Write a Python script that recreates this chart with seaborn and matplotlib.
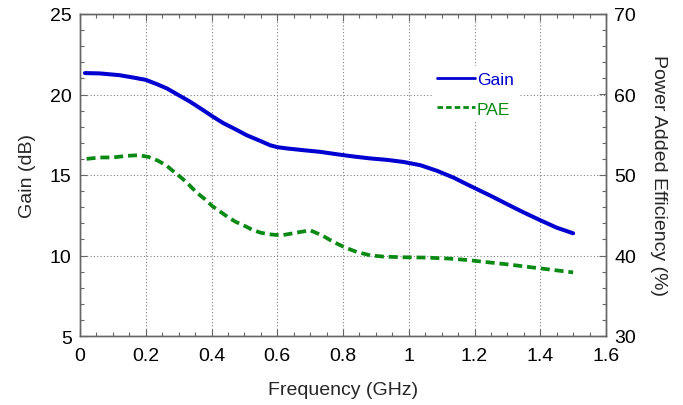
import matplotlib
matplotlib.use("Agg")
import matplotlib.pyplot as plt
from matplotlib.ticker import MultipleLocator
import seaborn as sns
import pandas as pd

# Data
gain_freq = [0.015, 0.06, 0.12, 0.16, 0.20, 0.233, 0.264, 0.30, 0.335, 0.37, 0.403,
             0.436, 0.472, 0.507, 0.548, 0.578, 0.60, 0.629, 0.68, 0.73, 0.781, 0.832,
             0.883, 0.934, 0.984, 1.035, 1.086, 1.136, 1.182, 1.25, 1.30, 1.35, 1.40,
             1.45, 1.50]
gain_db = [21.33, 21.31, 21.20, 21.06, 20.91, 20.65, 20.38, 19.96, 19.55, 19.09, 18.64,
           18.22, 17.85, 17.47, 17.12, 16.85, 16.73, 16.65, 16.54, 16.44, 16.29, 16.15,
           16.03, 15.94, 15.81, 15.61, 15.26, 14.84, 14.37, 13.70, 13.18, 12.67, 12.19,
           11.73, 11.38]

pae_freq = [0.02, 0.06, 0.10, 0.142, 0.178, 0.208, 0.238, 0.264, 0.286, 0.31, 0.332,
            0.355, 0.38, 0.403, 0.426, 0.452, 0.474, 0.497, 0.523, 0.548, 0.573, 0.60,
            0.619, 0.66, 0.70, 0.736, 0.771, 0.807, 0.842, 0.883, 0.923, 0.984, 1.055,
            1.126, 1.177, 1.30, 1.40, 1.50]
pae_pct = [52.00, 52.18, 52.18, 52.38, 52.46, 52.25, 51.76, 51.14, 50.39, 49.60, 48.77,
           47.82, 46.99, 46.12, 45.46, 44.71, 44.17, 43.76, 43.22, 42.85, 42.64, 42.55,
           42.55, 42.85, 43.13, 42.51, 41.68, 40.98, 40.44, 40.02, 39.86, 39.78, 39.74,
           39.61, 39.44, 38.90, 38.40, 37.90]

x_ticks = [0, 0.2, 0.4, 0.6, 0.8, 1, 1.2, 1.4, 1.6]
x_tick_labels = ["0", "0.2", "0.4", "0.6", "0.8", "1", "1.2", "1.4", "1.6"]
left_ticks = [5, 10, 15, 20, 25]
right_ticks = [30, 40, 50, 60, 70]

gain_df = pd.DataFrame({"Frequency": gain_freq, "Gain": gain_db})
pae_df = pd.DataFrame({"Frequency": pae_freq, "PAE": pae_pct})

sns.set_style("white")
plt.rcParams["font.family"] = ["Liberation Sans", "DejaVu Sans"]

blue = "#0000D0"
green = "#0A8A14"
spine_c = "#666666"

fig = plt.figure(figsize=(6.83, 4.06), dpi=100)
ax = fig.add_axes([80 / 683, 1 - 337 / 406, 526 / 683, 322 / 406])
ax2 = ax.twinx()

sns.lineplot(data=gain_df, x="Frequency", y="Gain", ax=ax, color=blue,
             linewidth=2.9, label="Gain", legend=False, zorder=3)
sns.lineplot(data=pae_df, x="Frequency", y="PAE", ax=ax2, color=green,
             linewidth=2.7, linestyle=(0, (2.4, 1.3)), label="PAE", legend=False,
             zorder=3)

ax.set_xlim(0, 1.6)
ax.set_ylim(5, 25)
ax2.set_ylim(30, 70)

ax.set_xticks(x_ticks)
ax.set_xticklabels(x_tick_labels)
ax.set_yticks(left_ticks)
ax2.set_yticks(right_ticks)
ax.xaxis.set_minor_locator(MultipleLocator(0.05))
ax.yaxis.set_minor_locator(MultipleLocator(1))
ax2.yaxis.set_minor_locator(MultipleLocator(2))

ax.grid(True, which="major", linestyle=(0, (1, 2)), color="#808080", linewidth=0.8)
ax.set_axisbelow(True)

ax.tick_params(axis="both", which="both", direction="in", labelsize=14,
               colors=spine_c, labelcolor="black")
ax.tick_params(axis="x", which="both", top=True, bottom=True, pad=8)
ax.tick_params(axis="y", which="both", left=True, right=False, pad=6)
ax.tick_params(which="major", length=5, width=0.8)
ax.tick_params(which="minor", length=3, width=0.8)
ax2.tick_params(axis="y", which="both", direction="in", right=True, labelsize=14,
                colors=spine_c, labelcolor="black", pad=6)
ax2.tick_params(which="major", length=5, width=0.8)
ax2.tick_params(which="minor", length=3, width=0.8)

for a in (ax, ax2):
    for s in a.spines.values():
        s.set_color(spine_c)
        s.set_linewidth(1.0)

ax.set_xlabel("Frequency (GHz)", fontsize=14, labelpad=12)
ax.set_ylabel("Gain (dB)", fontsize=14, labelpad=10)
ax2.set_ylabel("Power Added Efficiency (%)", fontsize=14, rotation=-90, labelpad=22)

h1, l1 = ax.get_legend_handles_labels()
h2, l2 = ax2.get_legend_handles_labels()
leg = ax2.legend(h1 + h2, l1 + l2, loc="center left",
                 bbox_to_anchor=(423 / 683, 1 - 95 / 406), bbox_transform=fig.transFigure,
                 frameon=True, facecolor="white", edgecolor="none", framealpha=1,
                 fontsize=12.5, handlelength=2.2, handletextpad=0.1,
                 labelspacing=0.85, borderpad=0.3, labelcolor="linecolor")
for line in leg.get_lines():
    line.set_linewidth(2.0)
leg.get_lines()[1].set_linestyle((0, (2.0, 1.1)))

fig.savefig("out.png", dpi=100)
